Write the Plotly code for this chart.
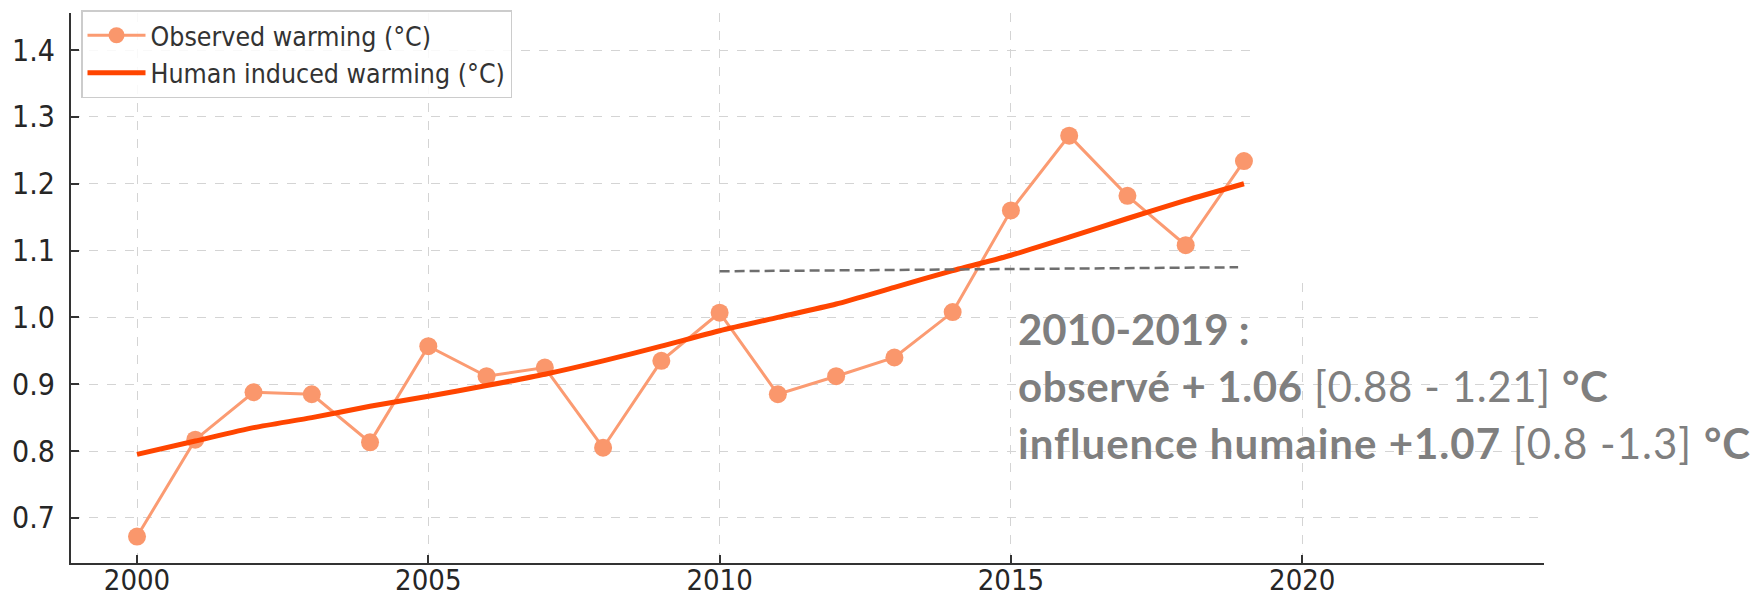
import plotly.graph_objects as go

# ---- data -------------------------------------------------------------
years = list(range(2000, 2020))
observed = [0.672, 0.817, 0.888, 0.885, 0.813, 0.957, 0.912, 0.925, 0.805, 0.935,
            1.007, 0.885, 0.912, 0.940, 1.008, 1.160, 1.272, 1.182, 1.108, 1.234]
human = [0.795, 0.815, 0.835, 0.850, 0.867, 0.882, 0.898, 0.915, 0.935, 0.957,
         0.980, 1.000, 1.020, 1.045, 1.070, 1.093, 1.120, 1.148, 1.175, 1.200]
mean_years = [2010, 2018.9]
mean_level = [1.069, 1.075]

x_ticks = [2000, 2005, 2010, 2015, 2020]
y_ticks = [0.7, 0.8, 0.9, 1.0, 1.1, 1.2, 1.3, 1.4]

summary_lines = [
    "<b>2010-2019 :</b>",
    "<b>observé + 1.06</b> [0.88 - 1.21] <b>°C</b>",
    "<b>influence humaine +1.07</b> [0.8 -1.3] <b>°C</b>",
]
summary_spacing = [0, 0.6, 1.0]

# ---- layout geometry ---------------------------------------------------
W, H = 1752, 599
ML, MR, MT, MB = 71, 208, 13, 36
XR = [1998.867, 2024.15]
YR = [0.6325, 1.4555]


def px_to_x(px):
    return XR[0] + (px - ML) / (W - ML - MR) * (XR[1] - XR[0])


def py_to_y(py):
    return YR[1] - (py - MT) / (H - MT - MB) * (YR[1] - YR[0])


fig = go.Figure()

fig.add_trace(go.Scatter(
    x=years, y=observed, mode="lines+markers", name="Observed warming (°C)",
    line=dict(color="#FB9B72", width=3),
    marker=dict(color="#FA976C", size=18),
))
fig.add_trace(go.Scatter(
    x=years, y=human, mode="lines", name="Human induced warming (°C)",
    line=dict(color="#FF4500", width=5, shape="spline", smoothing=0.6),
))
fig.add_trace(go.Scatter(
    x=mean_years, y=mean_level, mode="lines", showlegend=False,
    line=dict(color="#6e6e6e", width=2.5, dash="10px,5px"),
))

# blank panel in the upper right corner of the axes
fig.add_shape(type="rect", xref="x", yref="y",
              x0=px_to_x(1250), x1=XR[1] + 1, y0=py_to_y(280), y1=YR[1] + 1,
              fillcolor="white", line=dict(width=0), layer="between")

# summary text for the 2010-2019 decade
centers = [329, 386, 443]
for txt, sp, cy in zip(summary_lines, summary_spacing, centers):
    fig.add_annotation(
        x=px_to_x(1016), y=py_to_y(cy), xref="x", yref="y",
        xanchor="left", yanchor="middle", showarrow=False,
        text=f'<span style="letter-spacing:{sp}px">{txt}</span>',
        font=dict(family="Lato", size=42, color="#7f7f7f"),
    )

tick_family = "DejaVu Sans Condensed, DejaVu Sans"
axis_common = dict(
    showgrid=True, gridcolor="#d4d4d4", gridwidth=1, griddash="dash",
    showline=True, linecolor="#333333", linewidth=2, mirror=False,
    ticks="inside", ticklen=8, tickwidth=1.5, tickcolor="#333333",
    zeroline=False, automargin=False,
)

fig.update_xaxes(range=XR, tickvals=x_ticks, ticktext=[str(v) for v in x_ticks],
                 ticklabelstandoff=-10,
                 tickfont=dict(family=tick_family, size=29, color="#262626"),
                 **axis_common)
fig.update_yaxes(range=YR, tickvals=y_ticks, ticktext=[f"{v:.1f}" for v in y_ticks],
                 ticklabelstandoff=8,
                 tickfont=dict(family=tick_family, size=30, color="#262626"),
                 **axis_common)

fig.update_layout(
    width=W, height=H, autosize=False,
    margin=dict(l=ML, r=MR, t=MT, b=MB, pad=0, autoexpand=False),
    paper_bgcolor="white", plot_bgcolor="white",
    showlegend=True,
    legend=dict(
        x=(81 - ML) / (W - ML - MR), y=1 - (10 - MT) / (H - MT - MB),
        xanchor="left", yanchor="top",
        bgcolor="rgba(255,255,255,0.85)", bordercolor="#cccccc", borderwidth=1.5,
        font=dict(family=tick_family, size=26.5, color="#333333"),
        itemwidth=58,
    ),
)

fig.write_html("out.html")
